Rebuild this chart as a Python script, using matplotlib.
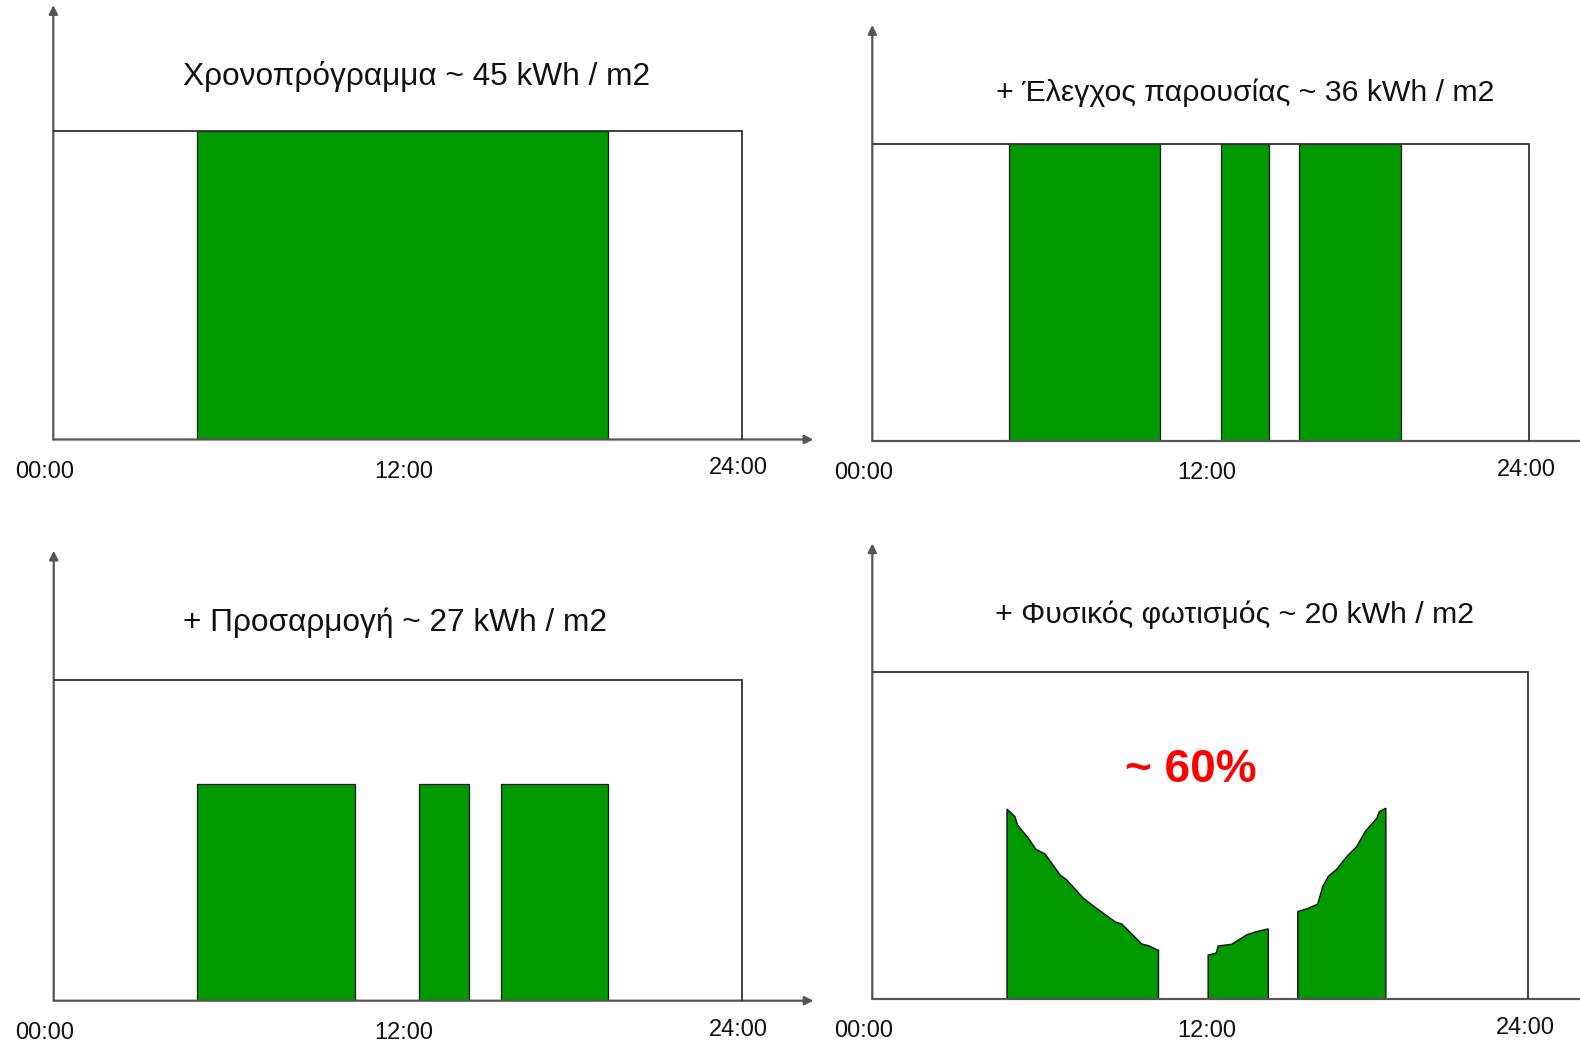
import matplotlib
matplotlib.use("Agg")
import matplotlib.pyplot as plt
from matplotlib.transforms import offset_copy

plt.rcParams['font.family'] = ['Liberation Sans', 'DejaVu Sans']

# ---- data -------------------------------------------------------------
tick_hours = [0, 12, 24]
tick_labels = ['00:00', '12:00', '24:00']

titles = [
    'Χρονοπρόγραμμα ~ 45 kWh / m2',
    '+ Έλεγχος παρουσίας ~ 36 kWh / m2',
    '+ Προσαρμογή ~ 27 kWh / m2',
    '+ Φυσικός φωτισμός ~ 20 kWh / m2',
]
title_sizes = [22.8, 21.8, 22.8, 21.8]
saving_label = '~ 60%'

# full lighting level (upper box) is 1.0
full_level = 1.0
day_end = 24

# time schedule: lights on for the whole working day
schedule_start = [5.0]
schedule_end = [19.33]
schedule_level = 1.0

# occupancy control: lights on only while the room is occupied
occupancy_start = [5.0, 12.75, 15.6]
occupancy_end = [10.5, 14.5, 19.33]
occupancy_level = 1.0

# tuning: same occupied periods at reduced output
tuning_level = 0.676

# daylight harvesting: output follows the missing daylight
daylight_hours = [
    [4.93, 5.22, 5.31, 5.71, 5.99, 6.32, 6.87, 7.11, 7.72, 8.09, 8.88, 9.13,
     9.86, 10.10, 10.47],
    [12.29, 12.58, 12.66, 13.15, 13.70, 14.07, 14.49],
    [15.57, 15.95, 16.30, 16.48, 16.68, 16.99, 17.36, 17.72, 18.03, 18.46,
     18.55, 18.79],
]
daylight_level = [
    [0.580, 0.557, 0.532, 0.491, 0.457, 0.443, 0.379, 0.364, 0.308, 0.284,
     0.236, 0.229, 0.168, 0.163, 0.148],
    [0.134, 0.140, 0.162, 0.167, 0.196, 0.206, 0.214],
    [0.267, 0.277, 0.290, 0.343, 0.374, 0.396, 0.435, 0.465, 0.511, 0.552,
     0.572, 0.583],
]

# ---- style ------------------------------------------------------------
GREEN = '#009900'
EDGE = '#1a1a1a'
BOX = '#333333'
AXIS = '#555555'

W, H = 1580, 1045
DPI = 100
fig = plt.figure(figsize=(W / DPI, H / DPI), dpi=DPI)
fig.patch.set_facecolor('white')

# panel geometry in pixels: origin x, baseline y, px per hour, box height,
# axis extent (hours, level), title anchor (hours, level)
panels = [
    dict(x0=53.3, yb=439.5, pph=28.68, bh=308.5, xmax=26.5, ymax=1.408, tx=12.68, ty=1.176),
    dict(x0=872.3, yb=441.0, pph=27.375, bh=296.7, xmax=26.5, ymax=1.402, tx=13.61, ty=1.174),
    dict(x0=53.7, yb=1000.7, pph=28.67, bh=320.7, xmax=26.5, ymax=1.403, tx=11.92, ty=1.178),
    dict(x0=872.3, yb=999.0, pph=27.33, bh=327.3, xmax=26.5, ymax=1.392, tx=13.27, ty=1.173),
]

label_dx = [-9, 6, -3]
label_dy = [-32, -32, -29]

axes = []
for i, p in enumerate(panels):
    left = p['x0'] / W
    bottom = (H - p['yb']) / H
    width = p['xmax'] * p['pph'] / W
    height = p['ymax'] * p['bh'] / H
    ax = fig.add_axes([left, bottom, width, height])
    ax.set_xlim(0, p['xmax'])
    ax.set_ylim(0, p['ymax'])
    ax.axis('off')

    # axes with arrow heads
    arrow = dict(arrowstyle='-|>', color=AXIS, lw=1.6, mutation_scale=13,
                 shrinkA=0, shrinkB=0)
    ax.annotate('', xy=(1, 0), xytext=(0, 0), xycoords='axes fraction',
                arrowprops=arrow, annotation_clip=False)
    ax.annotate('', xy=(0, 1), xytext=(0, 0), xycoords='axes fraction',
                arrowprops=arrow, annotation_clip=False)

    # envelope of the full lighting level
    ax.plot([0, day_end, day_end], [full_level, full_level, 0], color=BOX,
            lw=1.3, solid_joinstyle='miter', zorder=3)

    # time labels
    for h, lab, dx, dy in zip(tick_hours, tick_labels, label_dx, label_dy):
        tr = offset_copy(ax.transData, fig=fig, x=dx, y=dy, units='dots')
        ax.text(h, 0, lab, transform=tr, ha='center', va='center',
                fontsize=17, color='#111111')

    ax.text(p['tx'], p['ty'], titles[i], ha='center', va='center',
            fontsize=title_sizes[i], color='#111111')
    axes.append(ax)

bar_style = dict(align='edge', color=GREEN, edgecolor=EDGE, linewidth=0.9, zorder=2)

# 1. time schedule
axes[0].bar(schedule_start,
            [schedule_level] * len(schedule_start),
            width=[e - s for s, e in zip(schedule_start, schedule_end)],
            **bar_style)

# 2. occupancy control
axes[1].bar(occupancy_start,
            [occupancy_level] * len(occupancy_start),
            width=[e - s for s, e in zip(occupancy_start, occupancy_end)],
            **bar_style)

# 3. tuning
axes[2].bar(occupancy_start,
            [tuning_level] * len(occupancy_start),
            width=[e - s for s, e in zip(occupancy_start, occupancy_end)],
            **bar_style)

# 4. daylight harvesting
for hrs, lvl in zip(daylight_hours, daylight_level):
    xs = [hrs[0]] + hrs + [hrs[-1]]
    ys = [0] + lvl + [0]
    axes[3].fill(xs, ys, facecolor=GREEN, edgecolor=EDGE, linewidth=1.1, zorder=2)

axes[3].text(11.66, 0.700, saving_label, ha='center', va='center',
             fontsize=33, fontweight='bold', color='#ff0000')

fig.savefig('out.png', dpi=DPI, facecolor='white')
